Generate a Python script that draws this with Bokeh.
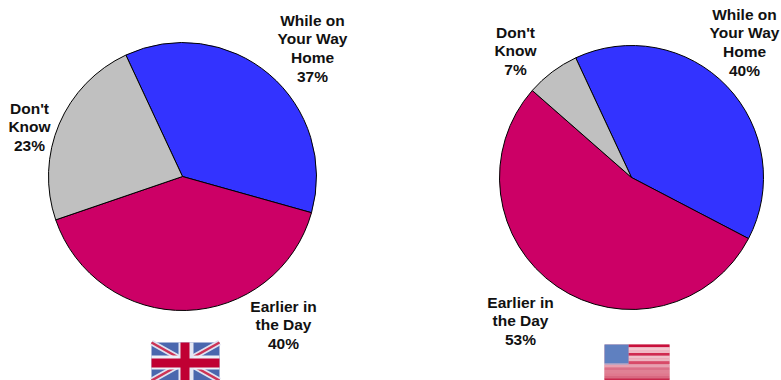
from math import pi
from bokeh.plotting import figure
from bokeh.embed import file_html
from bokeh.resources import INLINE
from bokeh.core.properties import value

# Data
categories = ["While on\nYour Way\nHome", "Earlier in\nthe Day", "Don't\nKnow"]
uk_labels = [37, 40, 23]
us_labels = [40, 53, 7]
uk_slices = [36.3, 40.4, 23.3]
us_slices = [39.6, 53.8, 6.6]
colors = ["#3333FF", "#CC0066", "#C0C0C0"]

W, H = 781, 380
p = figure(width=W, height=H, x_range=(0, W), y_range=(H, 0), output_backend="svg",
           toolbar_location=None, min_border=0, outline_line_color=None,
           background_fill_color="white", border_fill_color="white")
p.axis.visible = False
p.grid.visible = False


def pie(cx, cy, r, vals):
    a = 115.0
    for v, c in zip(vals, colors):
        b = a - v * 3.6
        p.wedge(x=[cx], y=[cy], radius=r, start_angle=a * pi / 180, end_angle=b * pi / 180,
                direction="clock", fill_color=c, line_color="black", line_width=1)
        a = b


def labels(vals, anchors):
    for cat, v, (x, y) in zip(categories, vals, anchors):
        p.text(x=[x], y=[y], text=[f"{cat}\n{v}%"], text_align="center", text_baseline="top",
               text_font=value("Liberation Sans"), text_font_style="bold",
               text_font_size="15.5px", text_color="#111111", text_line_height=1.1)


pie(182, 176, 134, uk_slices)
pie(631, 177, 132, us_slices)
labels(uk_labels, [(312, 11), (283, 297), (29, 99)])
labels(us_labels, [(744, 5), (520, 293), (515, 23)])


def uk_flag(x0, y0, x1, y1):
    xm, ym = (x0 + x1) / 2, (y0 + y1) / 2
    p.quad(left=[x0], right=[x1], top=[y0], bottom=[y1], fill_color="#4A67AE", line_color=None)
    for xs, ys in (([x0, x1], [y0, y1]), ([x0, x1], [y1, y0])):
        p.line(xs, ys, line_color="#E0E2F0", line_width=6)
        p.line(xs, ys, line_color="#CC3355", line_width=2.5)
    p.quad(left=[x0], right=[x1], top=[ym - 6], bottom=[ym + 8], fill_color="#EEF0F8", line_color=None)
    p.quad(left=[xm - 7], right=[xm + 8], top=[y0], bottom=[y1], fill_color="#E4E8F4", line_color=None)
    p.quad(left=[x0], right=[x1], top=[ym - 3], bottom=[ym + 6], fill_color="#C00033", line_color=None)
    p.quad(left=[xm - 5], right=[xm + 4], top=[y0], bottom=[y1], fill_color="#C00033", line_color=None)


def us_flag(x0, y0, x1, y1):
    p.quad(left=[x0], right=[x1], top=[y0], bottom=[y1], fill_color="#E08A9C", line_color=None)
    for i, c in enumerate(["#C8103C", "#F2C8D0", "#F0B8C4", "#D02A50", "#F0C0CA", "#EDB4C0", "#D84A68"]):
        p.quad(left=[x0 + 24], right=[x1], top=[y0 + i * 2.8], bottom=[y0 + (i + 1) * 2.8], fill_color=c, line_color=None)
    for i, c in enumerate(["#E8A0B0", "#DC7088", "#E08094", "#E0788E", "#D86880"]):
        p.quad(left=[x0], right=[x1], top=[y0 + 20 + i * 2.9], bottom=[y0 + 20 + (i + 1) * 2.9], fill_color=c, line_color=None)
    p.quad(left=[x0], right=[x1], top=[y1 - 2], bottom=[y1], fill_color="#C8284C", line_color=None)
    p.quad(left=[x0], right=[x0 + 24], top=[y0], bottom=[y0 + 19], fill_color="#5F80C0", line_color=None)
    p.quad(left=[x0], right=[x0 + 24], top=[y0 + 19], bottom=[y0 + 20], fill_color="#9FB4DC", line_color=None)


uk_flag(151, 342, 219, 380)
us_flag(604, 344, 669, 380)

open("out.html", "w").write(file_html(p, INLINE))
